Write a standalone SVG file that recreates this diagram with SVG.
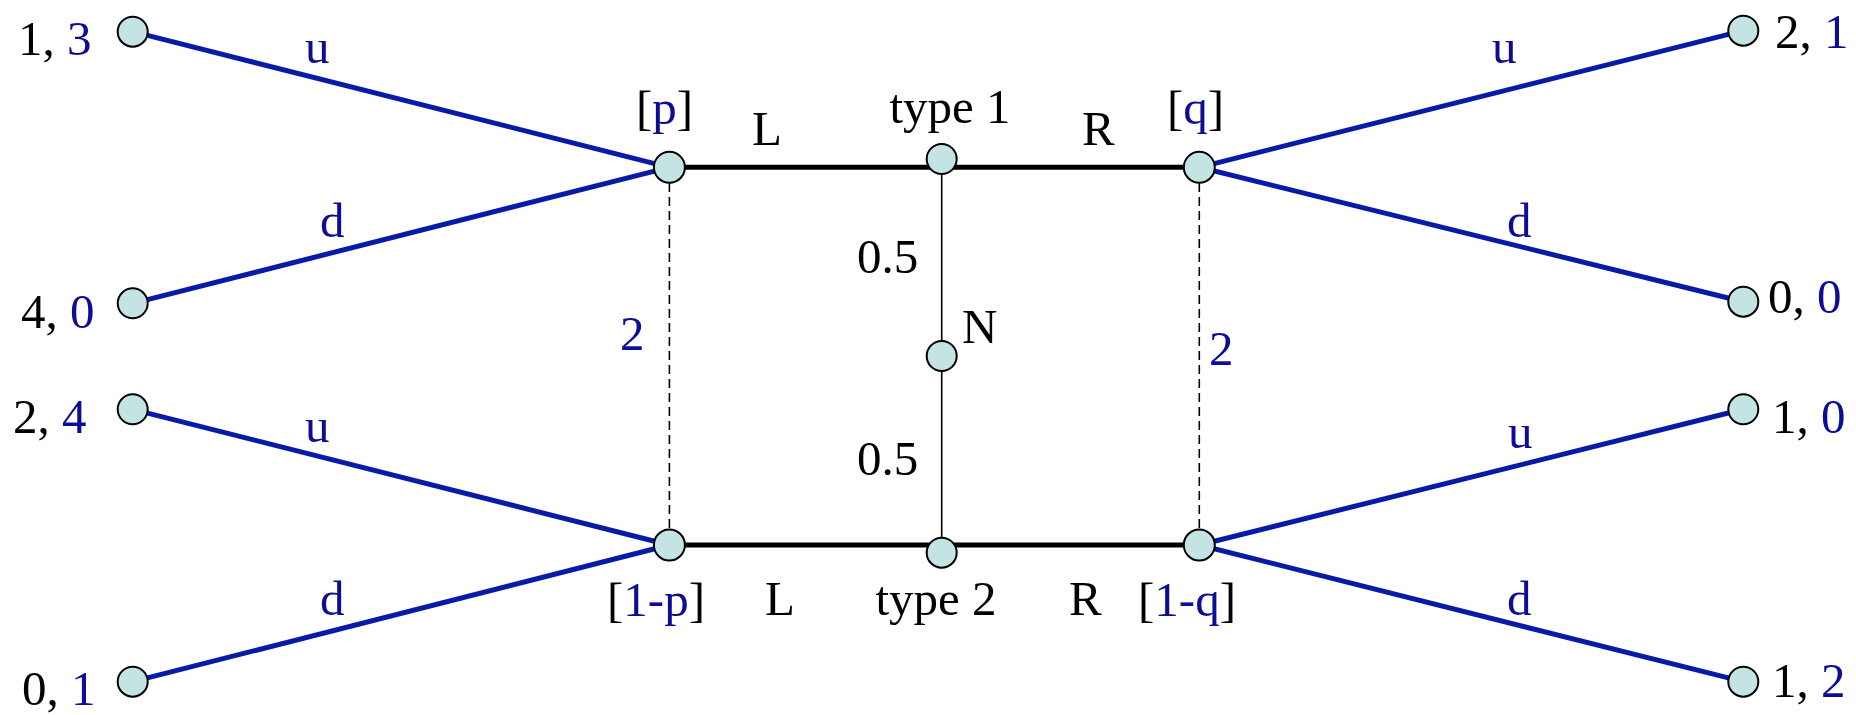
<svg xmlns="http://www.w3.org/2000/svg" width="1856" height="715" viewBox="0 0 1856 715">
<style>
text{font-family:"Liberation Serif","Times New Roman",serif;font-size:49px;fill:#000}
.b{fill:#0c0c96}
.bl{stroke:#0a1aa8;stroke-width:5;fill:none}
.th{stroke:#000;stroke-width:5}
.tn{stroke:#000;stroke-width:1.6}
.da{stroke:#000;stroke-width:1.6;stroke-dasharray:9 5}
.n{fill:#c4e4e4;stroke:#000;stroke-width:2}
</style>
<rect width="1856" height="715" fill="#fff"/>
<g id="connectors">
<line class="bl" x1="132.7" y1="31.7" x2="669.4" y2="167.3"/>
<line class="bl" x1="132.7" y1="303.3" x2="669.4" y2="167.3"/>
<line class="bl" x1="132.7" y1="409.3" x2="669.4" y2="545"/>
<line class="bl" x1="132.7" y1="681.7" x2="669.4" y2="545"/>
<line class="bl" x1="1743.3" y1="30.7" x2="1199.3" y2="167.3"/>
<line class="bl" x1="1743.3" y1="301.7" x2="1199.3" y2="167.3"/>
<line class="bl" x1="1743.3" y1="409.3" x2="1199.3" y2="545"/>
<line class="bl" x1="1743.3" y1="681.7" x2="1199.3" y2="545"/>
<line class="th" x1="669.4" y1="167.3" x2="1199.3" y2="167.3"/>
<line class="th" x1="669.4" y1="545" x2="1199.3" y2="545"/>
<line class="tn" x1="941.7" y1="159" x2="941.7" y2="552.7"/>
<line class="da" x1="669.4" y1="183" x2="669.4" y2="529"/>
<line class="da" x1="1199.3" y1="183" x2="1199.3" y2="529"/>
<text class="b" x="305" y="63">u</text>
<text class="b" x="320" y="237">d</text>
<text class="b" x="305" y="442">u</text>
<text class="b" x="320" y="615">d</text>
<text class="b" x="1492" y="63">u</text>
<text class="b" x="1507" y="237">d</text>
<text class="b" x="1508" y="448">u</text>
<text class="b" x="1507" y="615">d</text>
<text x="752" y="145">L</text>
<text x="1082" y="145">R</text>
<text x="765" y="615">L</text>
<text x="1069" y="615">R</text>
<text x="857" y="273">0.5</text>
<text x="857" y="475">0.5</text>
<text class="b" x="620" y="350">2</text>
<text class="b" x="1209" y="365">2</text>
</g>
<g id="leaf-l1"><circle class="n" cx="132.7" cy="31.7" r="15"/><text x="18" y="55">1, <tspan class="b">3</tspan></text></g>
<g id="leaf-l2"><circle class="n" cx="132.7" cy="303.3" r="15"/><text x="21" y="328">4, <tspan class="b">0</tspan></text></g>
<g id="leaf-l3"><circle class="n" cx="132.7" cy="409.3" r="15"/><text x="13" y="433">2, <tspan class="b">4</tspan></text></g>
<g id="leaf-l4"><circle class="n" cx="132.7" cy="681.7" r="15"/><text x="22" y="705">0, <tspan class="b">1</tspan></text></g>
<g id="leaf-r1"><circle class="n" cx="1743.3" cy="30.7" r="15"/><text x="1775" y="48">2, <tspan class="b">1</tspan></text></g>
<g id="leaf-r2"><circle class="n" cx="1743.3" cy="301.7" r="15"/><text x="1768" y="313">0, <tspan class="b">0</tspan></text></g>
<g id="leaf-r3"><circle class="n" cx="1743.3" cy="409.3" r="15"/><text x="1772" y="433">1, <tspan class="b">0</tspan></text></g>
<g id="leaf-r4"><circle class="n" cx="1743.3" cy="681.7" r="15"/><text x="1772" y="697">1, <tspan class="b">2</tspan></text></g>
<g id="node-p"><circle class="n" cx="669.4" cy="167.3" r="15.5"/><text x="636" y="124">[<tspan class="b">p</tspan>]</text></g>
<g id="node-q"><circle class="n" cx="1199.3" cy="167.3" r="15.5"/><text x="1167" y="124">[<tspan class="b">q</tspan>]</text></g>
<g id="node-1p"><circle class="n" cx="669.4" cy="545" r="15.5"/><text x="607" y="616">[<tspan class="b">1-p</tspan>]</text></g>
<g id="node-1q"><circle class="n" cx="1199.3" cy="545" r="15.5"/><text x="1138" y="616">[<tspan class="b">1-q</tspan>]</text></g>
<g id="node-type1"><circle class="n" cx="941.7" cy="159" r="15"/><text x="950" y="123" text-anchor="middle">type 1</text></g>
<g id="node-N"><circle class="n" cx="941.7" cy="356" r="15"/><text x="962" y="343">N</text></g>
<g id="node-type2"><circle class="n" cx="941.7" cy="552.7" r="15"/><text x="936" y="615" text-anchor="middle">type 2</text></g>
</svg>
